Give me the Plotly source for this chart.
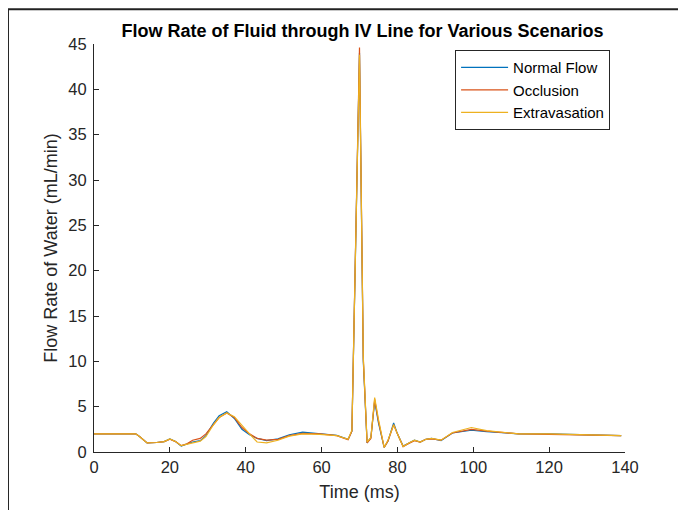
import plotly.graph_objects as go

# Time samples (ms)
time_ms = [0, 11, 12, 13, 14, 16.5, 18.5, 20, 21.5, 23, 24.5, 26, 28, 29.5, 31.5, 33, 35, 37,
           39, 41, 43, 45.5, 48.5, 51.5, 55, 59.5, 64, 67, 68, 70, 71, 72, 73, 74, 75, 76.5,
           77.5, 79, 80, 81.5, 83, 84.5, 86, 87.5, 89, 91.5, 94.5, 97, 99.5, 103.5, 108, 112,
           120, 128, 139]

# Flow rate (mL/min) for each scenario
normal_flow = [2.0, 2.0, 1.7, 1.3, 1.0, 1.05, 1.15, 1.45, 1.15, 0.65, 0.85, 1.1, 1.25, 1.8,
               3.2, 4.0, 4.45, 3.7, 2.5, 1.9, 1.5, 1.25, 1.45, 1.9, 2.2, 2.05, 1.85, 1.4, 2.3,
               44.0, 10.0, 1.0, 1.6, 5.6, 3.2, 0.5, 1.2, 3.2, 2.0, 0.65, 0.95, 1.3, 1.1, 1.4,
               1.5, 1.25, 2.1, 2.25, 2.4, 2.25, 2.1, 2.0, 2.0, 1.9, 1.8]
occlusion = [2.0, 2.0, 1.7, 1.3, 1.0, 1.05, 1.15, 1.4, 1.15, 0.7, 0.9, 1.3, 1.5, 2.0,
             3.0, 3.8, 4.3, 3.8, 2.7, 2.0, 1.5, 1.3, 1.4, 1.8, 2.05, 2.0, 1.8, 1.35, 2.3,
             44.6, 10.3, 1.0, 1.5, 5.8, 3.4, 0.5, 1.2, 3.0, 2.0, 0.6, 0.95, 1.25, 1.1, 1.4,
             1.45, 1.3, 2.1, 2.3, 2.5, 2.3, 2.1, 2.0, 1.95, 1.9, 1.8]
extravasation = [2.0, 2.0, 1.7, 1.3, 1.0, 1.05, 1.15, 1.45, 1.15, 0.7, 0.85, 1.0, 1.2, 1.7,
                 3.0, 3.8, 4.3, 3.9, 2.9, 2.0, 1.1, 1.0, 1.3, 1.75, 2.0, 1.95, 1.8, 1.4, 2.4,
                 43.8, 10.5, 1.1, 1.6, 6.0, 3.6, 0.5, 1.3, 3.0, 2.0, 0.6, 1.0, 1.3, 1.1, 1.4,
                 1.5, 1.3, 2.15, 2.4, 2.7, 2.35, 2.15, 2.0, 2.0, 1.9, 1.8]

series_names = ['Normal Flow', 'Occlusion', 'Extravasation']
series_colors = ['#0072BD', '#D95319', '#EDB120']

fig = go.Figure()
for name, vals, col in zip(series_names, [normal_flow, occlusion, extravasation], series_colors):
    fig.add_trace(go.Scatter(x=time_ms, y=vals, mode='lines', name=name,
                             line=dict(color=col, width=1.2)))

axis_style = dict(showgrid=False, zeroline=False, showline=True, linecolor='#262626',
                  linewidth=1, ticks='inside', ticklen=5, tickcolor='#262626',
                  tickfont=dict(size=16.5, color='#262626'), mirror=False)

# page adds an 8px body margin, so the figure is sized/offset to compensate
fig.update_layout(
    width=678, height=502,
    margin=dict(l=86, r=61, t=36, b=55),
    paper_bgcolor='white', plot_bgcolor='white',
    font=dict(family='Liberation Sans, Arial, sans-serif', color='#262626'),
    title=dict(text='<b>Flow Rate of Fluid through IV Line for Various Scenarios</b>',
               x=0.523, xanchor='center', y=0.955, yanchor='middle',
               font=dict(size=18, color='black')),
    xaxis=dict(range=[0, 140], tickvals=list(range(0, 141, 20)),
               title=dict(text='Time (ms)', font=dict(size=18), standoff=10), **axis_style),
    yaxis=dict(range=[0, 45], tickvals=list(range(0, 46, 5)), ticklabelstandoff=3,
               title=dict(text='Flow Rate of Water (mL/min)', font=dict(size=18), standoff=6),
               **axis_style),
    legend=dict(x=0.68, y=0.985, xanchor='left', yanchor='top', bgcolor='white',
                bordercolor='#262626', borderwidth=1, font=dict(size=15, color='black'),
                tracegroupgap=0, itemwidth=47),
    shapes=[
        dict(type='line', xref='paper', yref='paper', x0=-0.162, x1=1.2, y0=1.085, y1=1.085,
             line=dict(color='#222', width=2)),
        dict(type='line', xref='paper', yref='paper', x0=-0.162, x1=-0.162, y0=-0.2, y1=1.085,
             line=dict(color='#222', width=2)),
    ],
)

fig.write_html("out.html")
